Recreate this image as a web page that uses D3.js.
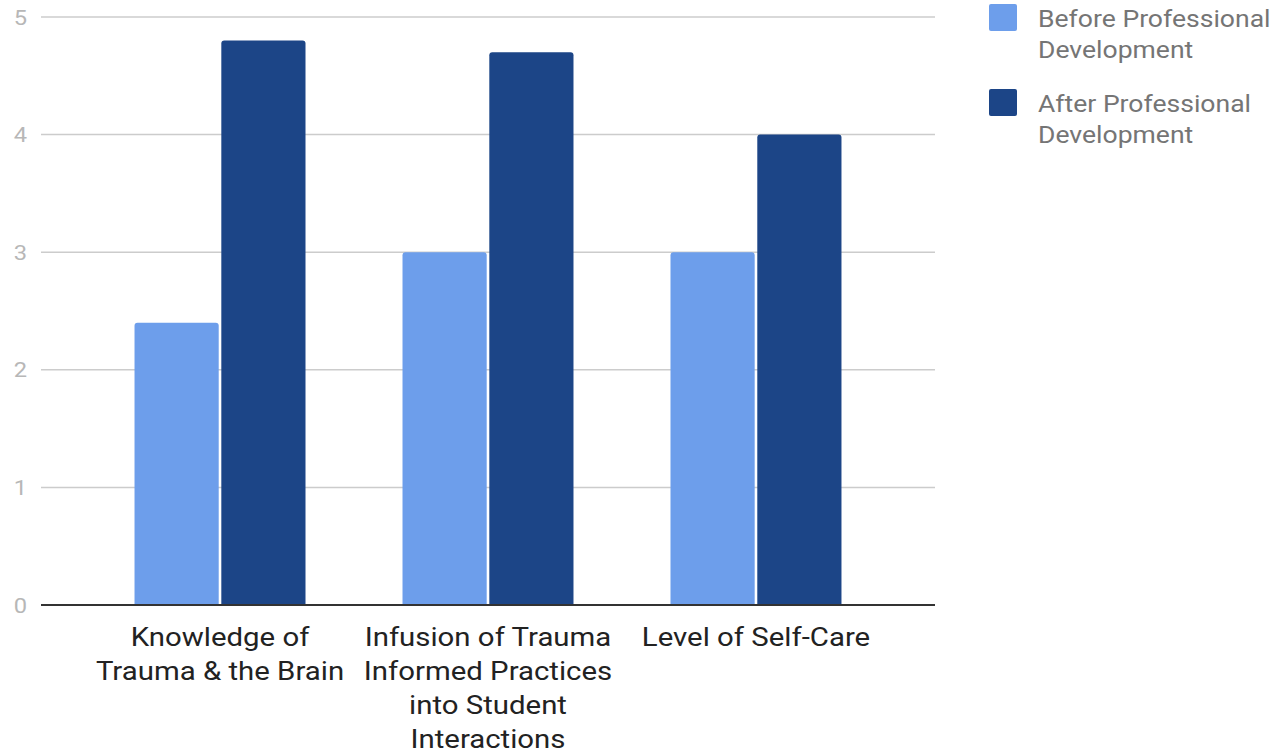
<!DOCTYPE html>
<html>
<head>
<meta charset="utf-8">
<script src="https://cdn.jsdelivr.net/npm/d3@7"></script>
<style>
  html, body { margin: 0; padding: 0; background: #fff; }
  svg { display: block; font-family: Roboto, 'Noto Sans', sans-serif; }
</style>
</head>
<body>
<svg id="chart" width="1288" height="752"></svg>
<script>
const categories = [
  ['Knowledge of', 'Trauma & the Brain'],
  ['Infusion of Trauma', 'Informed Practices', 'into Student', 'Interactions'],
  ['Level of Self-Care'],
];
const seriesNames = ['Before Professional Development', 'After Professional Development'];
const legendLines = [['Before Professional', 'Development'], ['After Professional', 'Development']];
const beforeValues = [2.4, 3.0, 3.0];
const afterValues = [4.8, 4.7, 4.0];
const yTicks = [0, 1, 2, 3, 4, 5];
const colors = ['#6d9eeb', '#1c4587'];

// the picture's text is a bit wider than it is tall
const stretch = 1.13;

const svg = d3.select('#chart');
const margin = { top: 17, right: 353, bottom: 147, left: 41 };
const width = 1288 - margin.left - margin.right;
const height = 752 - margin.top - margin.bottom;

const chart = svg.append('g').attr('transform', `translate(${margin.left}, ${margin.top})`);

const catIndex = categories.map((_, i) => i);
const x0 = d3.scaleBand().domain(catIndex).range([0, width]).paddingInner(0.362).paddingOuter(0.349);
const x1 = d3.scaleBand().domain([0, 1]).range([0, x0.bandwidth()]).paddingInner(0.03);
const y = d3.scaleLinear().domain([0, 5]).range([height, 0]);

// gridlines + y labels
chart.selectAll('.grid')
  .data(yTicks.filter((t) => t > 0))
  .join('line')
  .attr('class', 'grid')
  .attr('x1', 0)
  .attr('x2', width)
  .attr('y1', (d) => y(d))
  .attr('y2', (d) => y(d))
  .attr('stroke', '#cccccc')
  .attr('stroke-width', 1.5);

chart.selectAll('.ytick')
  .data(yTicks)
  .join('text')
  .attr('class', 'ytick')
  .attr('transform', (d) => `translate(-14, ${y(d)}) scale(${stretch}, 1)`)
  .attr('dy', '0.36em')
  .attr('text-anchor', 'end')
  .attr('fill', '#b7b7b7')
  .attr('font-size', 21)
  .text((d) => d);

// bars with rounded tops
const r = 3;
function barPath(bx, bw, top, bottom) {
  return `M${bx},${bottom}V${top + r}Q${bx},${top} ${bx + r},${top}H${bx + bw - r}Q${bx + bw},${top} ${bx + bw},${top + r}V${bottom}Z`;
}

const rows = catIndex.map((i) => [beforeValues[i], afterValues[i]]);
const groups = chart.selectAll('.group')
  .data(rows)
  .join('g')
  .attr('class', 'group')
  .attr('transform', (d, i) => `translate(${x0(i)}, 0)`);

groups.selectAll('path')
  .data((d) => d.map((v, s) => ({ v, s })))
  .join('path')
  .attr('fill', (d) => colors[d.s])
  .attr('d', (d) => barPath(x1(d.s), x1.bandwidth(), y(d.v), y(0)));

// baseline
chart.append('line')
  .attr('x1', 0)
  .attr('x2', width)
  .attr('y1', y(0))
  .attr('y2', y(0))
  .attr('stroke', '#333333')
  .attr('stroke-width', 2);

// category labels
const labels = chart.selectAll('.xlabel')
  .data(categories)
  .join('text')
  .attr('class', 'xlabel')
  .attr('text-anchor', 'middle')
  .attr('fill', '#222222')
  .attr('font-size', 26)
  .attr('transform', (d, i) => `translate(${x0(i) + x0.bandwidth() / 2}, ${y(0) + 41}) scale(${stretch}, 1)`);

labels.selectAll('tspan')
  .data((d) => d)
  .join('tspan')
  .attr('x', 0)
  .attr('y', (d, i) => i * 34)
  .text((d) => d);

// legend
const legend = svg.append('g').attr('transform', 'translate(989, 4)');
const items = legend.selectAll('.item')
  .data(seriesNames)
  .join('g')
  .attr('class', 'item')
  .attr('transform', (d, i) => `translate(0, ${i * 85})`);

items.append('rect')
  .attr('width', 28)
  .attr('height', 27)
  .attr('rx', 2)
  .attr('fill', (d, i) => colors[i]);

items.append('text')
  .attr('fill', '#757575')
  .attr('font-size', 23.5)
  .attr('transform', `translate(49, 0) scale(${stretch}, 1)`)
  .selectAll('tspan')
  .data((d, i) => legendLines[i])
  .join('tspan')
  .attr('x', 0)
  .attr('y', (d, i) => 23 + i * 31)
  .text((d) => d);
</script>
</body>
</html>
